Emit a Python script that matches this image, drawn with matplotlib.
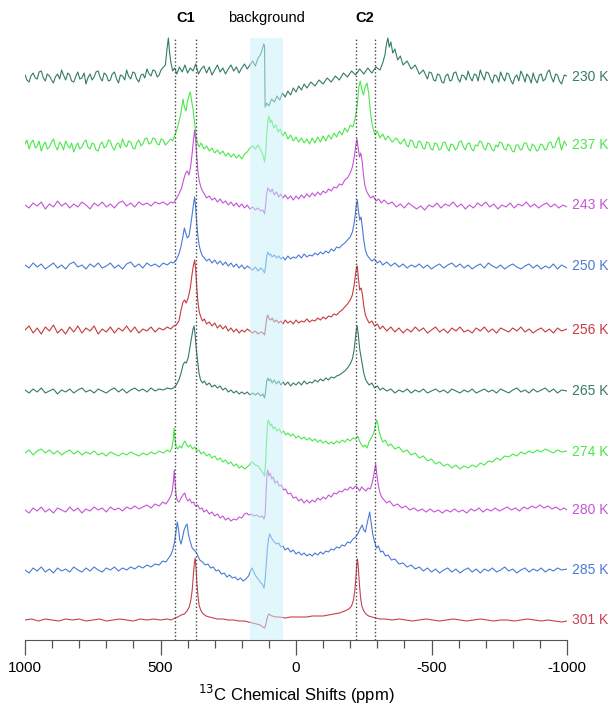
import matplotlib
matplotlib.use("Agg")
import matplotlib.pyplot as plt
from matplotlib.ticker import MultipleLocator

plt.rcParams['font.family'] = ['Liberation Sans', 'DejaVu Sans']
plt.rcParams['axes.unicode_minus'] = False

# ---- data: (ppm, intensity), intensity relative to each trace's baseline ----
s230 = [(1000,2),(993,-3),(985,-5),(978,1),(970,4),(962,-1),(955,-2),(948,5),(940,6),(932,-1),(925,-4),(918,3),(910,1),(902,-3),(895,-6),(888,0),(880,3),(872,-2),(865,7),(858,2),(850,-3),(842,4),(835,2),(828,-4),(820,-5),(812,1),(805,5),(798,-2),(790,-1),(782,4),(775,-7),(768,-1),(760,3),(752,-3),(745,0),(738,5),(730,6),(722,-1),(715,-4),(708,4),(700,2),(692,-4),(685,-3),(678,3),(670,5),(662,-2),(655,-6),(648,2),(640,1),(632,-3),(625,7),(618,1),(610,-2),(602,5),(595,4),(588,-2),(580,-5),(572,2),(565,3),(558,-1),(550,8),(542,3),(535,1),(528,7),(520,6),(512,0),(505,2),(498,7),(492,9),(482,12),(476,28),(471,39),(467,26),(462,15),(455,6),(448,9),(440,3),(430,10),(420,5),(410,12),(400,4),(390,9),(380,6),(370,13),(360,3),(350,8),(340,11),(330,4),(320,10),(310,2),(300,7),(290,12),(280,5),(270,9),(260,3),(250,8),(240,12),(230,6),(220,10),(210,4),(200,9),(190,13),(180,8),(170,12),(160,16),(150,11),(140,19),(132,22),(125,27),(119,33),(116,31),(114,-30),(108,-26),(100,-29),(90,-22),(80,-25),(70,-19),(60,-23),(50,-16),(40,-20),(30,-14),(20,-18),(10,-11),(0,-15),(-10,-9),(-20,-13),(-30,-7),(-40,-11),(-55,-5),(-70,-9),(-85,-3),(-100,-7),(-115,-1),(-130,-5),(-145,1),(-160,-3),(-175,4),(-190,0),(-205,6),(-220,2),(-235,8),(-250,3),(-265,9),(-280,4),(-295,10),(-310,7),(-320,14),(-328,22),(-334,33),(-339,39),(-344,30),(-350,35),(-357,24),(-365,28),(-375,17),(-385,21),(-395,12),(-410,16),(-425,8),(-440,12),(-455,3),(-470,7),(-485,-2),(-492,5),(-500,4),(-508,-3),(-515,-4),(-522,3),(-530,2),(-538,-5),(-545,-6),(-552,1),(-560,3),(-568,-4),(-575,-3),(-582,4),(-590,5),(-598,-2),(-605,-5),(-612,2),(-620,1),(-628,-3),(-635,6),(-642,0),(-650,-4),(-658,3),(-665,2),(-672,-4),(-680,7),(-688,1),(-695,-3),(-702,5),(-710,4),(-718,-2),(-725,-6),(-732,2),(-740,1),(-748,-5),(-755,5),(-762,0),(-770,-4),(-778,4),(-785,3),(-792,-3),(-800,-7),(-808,0),(-815,2),(-822,-4),(-830,6),(-838,1),(-845,-5),(-852,3),(-860,0),(-868,-6),(-875,4),(-882,-2),(-890,-6),(-898,2),(-905,3),(-912,-4),(-920,-2),(-928,5),(-935,7),(-942,0),(-950,-5),(-958,3),(-965,2),(-972,-4),(-980,-7),(-990,2),(-1000,1)]

s237 = [(1000,1),(993,5),(985,-4),(978,2),(970,5),(962,-3),(955,-1),(948,4),(940,-6),(932,0),(925,3),(918,-4),(910,-2),(902,3),(895,6),(888,-1),(880,-5),(872,3),(865,0),(858,-5),(850,4),(842,-1),(835,-3),(828,2),(820,-7),(812,-1),(805,2),(798,-4),(790,-2),(782,3),(775,5),(768,-2),(760,-4),(752,2),(745,1),(738,-5),(730,-6),(722,1),(715,3),(708,-3),(700,-1),(692,5),(685,4),(678,-2),(670,-5),(662,1),(655,2),(648,-3),(640,6),(632,0),(625,-2),(618,4),(610,3),(602,-3),(595,-4),(588,2),(580,5),(572,-1),(565,1),(558,6),(550,7),(542,1),(535,2),(528,7),(520,6),(512,1),(505,0),(498,6),(490,5),(482,0),(475,2),(462,6),(455,4),(448,9),(440,15),(433,22),(426,30),(420,40),(417,46),(412,38),(406,34),(400,44),(394,50),(390,53),(385,44),(380,36),(375,24),(370,12),(365,4),(358,-2),(350,2),(340,-4),(330,-1),(320,-6),(310,-3),(300,-8),(290,-5),(280,-9),(270,-6),(260,-11),(250,-8),(240,-12),(230,-9),(220,-13),(210,-10),(200,-14),(190,-9),(180,-7),(170,-3),(160,-1),(150,-4),(140,0),(130,-5),(122,-10),(116,-17),(112,-8),(108,10),(104,24),(100,29),(95,22),(90,25),(82,17),(74,20),(66,13),(58,16),(50,9),(40,13),(30,6),(20,10),(10,4),(0,8),(-10,3),(-20,7),(-30,2),(-40,6),(-50,1),(-60,7),(-70,2),(-80,8),(-90,3),(-100,9),(-110,4),(-120,10),(-130,6),(-140,12),(-150,8),(-160,14),(-170,10),(-180,17),(-190,13),(-200,20),(-210,18),(-218,26),(-226,40),(-232,58),(-237,64),(-243,55),(-249,50),(-255,58),(-262,62),(-268,52),(-274,35),(-280,22),(-286,15),(-292,10),(-300,14),(-310,7),(-320,11),(-330,5),(-340,9),(-355,3),(-370,7),(-385,1),(-400,6),(-408,0),(-415,-2),(-422,5),(-430,4),(-438,-2),(-445,-3),(-452,4),(-460,3),(-468,-3),(-475,-4),(-482,3),(-490,2),(-498,-4),(-505,-5),(-512,2),(-520,1),(-528,-5),(-535,-4),(-542,2),(-550,3),(-558,-3),(-565,-6),(-572,1),(-580,0),(-588,-5),(-595,-3),(-602,3),(-610,4),(-618,-2),(-625,-5),(-632,1),(-640,2),(-648,-4),(-655,-6),(-662,0),(-670,-1),(-678,4),(-685,3),(-692,-3),(-700,-5),(-708,2),(-715,1),(-722,-4),(-730,-6),(-738,0),(-745,-2),(-752,3),(-760,2),(-768,-4),(-775,-5),(-782,1),(-790,-1),(-798,-6),(-805,-7),(-812,0),(-820,0),(-828,-5),(-835,-4),(-842,2),(-850,2),(-858,-4),(-865,-6),(-872,1),(-880,-1),(-888,-6),(-895,-5),(-902,1),(-910,0),(-918,-5),(-925,-4),(-932,2),(-940,3),(-948,-3),(-955,-2),(-962,4),(-970,8),(-975,0),(-980,-5),(-990,4),(-1000,-1)]

s243 = [(1000,0),(985,-3),(970,2),(955,-1),(940,3),(925,-4),(910,1),(895,-2),(880,4),(865,-1),(850,2),(835,-3),(820,1),(805,-2),(790,3),(775,0),(760,-4),(745,2),(730,-1),(715,3),(700,-2),(685,1),(670,-3),(655,2),(640,4),(625,-1),(610,2),(595,-2),(580,3),(565,0),(550,2),(535,-1),(520,3),(505,1),(490,3),(475,0),(462,3),(452,2),(442,6),(432,11),(422,17),(414,26),(407,32),(401,34),(395,30),(389,38),(383,52),(378,66),(374,75),(370,64),(366,48),(362,34),(357,24),(351,18),(345,14),(338,11),(330,7),(320,9),(310,5),(300,7),(290,3),(280,6),(270,2),(260,4),(250,0),(240,3),(230,-1),(220,2),(210,-2),(200,1),(190,-3),(180,0),(170,-4),(160,-2),(150,-5),(140,-3),(130,-6),(122,-5),(116,-9),(112,0),(108,12),(104,17),(99,15),(94,13),(88,16),(80,10),(72,13),(64,8),(56,11),(48,7),(40,10),(30,6),(20,9),(10,5),(0,9),(-10,6),(-20,10),(-30,7),(-40,11),(-50,8),(-60,12),(-70,9),(-80,13),(-90,10),(-100,14),(-110,12),(-120,16),(-130,14),(-140,18),(-150,17),(-160,21),(-170,20),(-180,25),(-190,27),(-200,32),(-208,38),(-215,48),(-221,60),(-225,66),(-229,58),(-234,48),(-239,52),(-244,44),(-249,30),(-254,20),(-260,14),(-268,10),(-276,7),(-285,9),(-295,4),(-305,6),(-315,2),(-325,5),(-340,1),(-355,3),(-370,-2),(-385,1),(-400,-3),(-415,2),(-430,-1),(-445,-4),(-460,-1),(-475,-5),(-490,0),(-505,-2),(-520,2),(-535,-3),(-550,1),(-565,-1),(-580,3),(-595,-2),(-610,1),(-625,-4),(-640,0),(-655,-3),(-670,2),(-685,-1),(-700,3),(-715,-2),(-730,1),(-745,-4),(-760,0),(-775,-2),(-790,2),(-805,-3),(-820,1),(-835,-1),(-850,3),(-865,-2),(-880,1),(-895,-3),(-910,0),(-925,2),(-940,-2),(-955,1),(-970,-3),(-985,0),(-1000,-2)]

s250 = [(1000,1),(985,-2),(970,3),(955,-1),(940,2),(925,-3),(910,0),(895,3),(880,-2),(865,1),(850,-3),(835,2),(820,4),(805,-1),(790,1),(775,-3),(760,2),(745,-1),(730,3),(715,-2),(700,0),(685,3),(670,-2),(655,1),(640,-3),(625,2),(610,4),(595,-1),(580,2),(565,-2),(550,3),(535,0),(520,2),(505,-1),(490,3),(475,1),(462,4),(452,3),(442,6),(432,12),(424,20),(417,30),(412,38),(407,33),(401,28),(395,30),(389,40),(383,52),(378,62),(374,69),(370,58),(366,42),(362,30),(357,20),(351,14),(345,10),(338,8),(330,5),(320,7),(310,3),(300,6),(290,2),(280,5),(270,1),(260,4),(250,0),(240,3),(230,-1),(220,2),(210,-2),(200,1),(190,-3),(180,0),(170,-2),(160,-4),(150,-1),(140,-5),(130,-2),(122,-4),(116,-7),(112,0),(108,10),(104,14),(99,11),(94,12),(88,9),(80,11),(72,8),(64,10),(56,7),(48,9),(40,6),(30,10),(20,7),(10,9),(0,8),(-10,11),(-20,8),(-30,12),(-40,9),(-50,11),(-60,10),(-70,13),(-80,11),(-90,14),(-100,12),(-110,15),(-120,13),(-130,17),(-140,15),(-150,19),(-160,18),(-170,21),(-180,23),(-190,26),(-200,29),(-208,34),(-214,42),(-219,52),(-223,62),(-226,66),(-230,56),(-235,46),(-240,49),(-245,38),(-250,26),(-256,16),(-262,11),(-270,8),(-280,5),(-290,7),(-300,3),(-310,5),(-320,1),(-335,4),(-350,0),(-365,3),(-380,-1),(-395,2),(-410,-2),(-425,1),(-440,-1),(-455,2),(-470,-2),(-485,1),(-500,-3),(-515,0),(-530,2),(-545,-2),(-560,1),(-575,3),(-590,-1),(-605,2),(-620,-2),(-635,1),(-650,-3),(-665,0),(-680,2),(-695,-2),(-710,3),(-725,0),(-740,-2),(-755,1),(-770,-3),(-785,0),(-800,2),(-815,-1),(-830,-3),(-845,0),(-860,2),(-875,-2),(-890,1),(-905,-3),(-920,0),(-935,-2),(-950,2),(-965,-3),(-980,1),(-1000,-2)]

s256 = [(1000,0),(985,4),(970,-3),(955,2),(940,-4),(925,3),(910,-1),(895,5),(880,-3),(865,1),(850,-4),(835,3),(820,-2),(805,4),(790,-3),(775,2),(760,-1),(745,4),(730,-4),(715,1),(700,-2),(685,3),(670,-3),(655,2),(640,-1),(625,4),(610,-2),(595,3),(580,-3),(565,1),(550,-1),(535,3),(520,-2),(505,2),(490,0),(475,3),(462,1),(452,4),(442,5),(432,9),(424,20),(417,28),(411,30),(405,27),(398,32),(390,42),(384,55),(379,64),(374,70),(370,60),(366,42),(362,28),(357,18),(351,13),(345,9),(338,11),(330,6),(320,8),(310,4),(300,7),(290,2),(280,5),(270,1),(260,4),(250,-1),(240,2),(230,-2),(220,1),(210,-3),(200,0),(190,-2),(180,1),(170,-1),(160,-3),(150,-1),(140,-4),(130,-2),(122,-3),(116,-5),(112,3),(108,12),(104,15),(99,11),(94,10),(88,12),(80,8),(72,10),(64,7),(56,9),(48,6),(40,10),(30,7),(20,9),(10,6),(0,10),(-10,7),(-20,9),(-30,8),(-40,11),(-50,8),(-60,10),(-70,9),(-80,12),(-90,10),(-100,13),(-110,11),(-120,14),(-130,13),(-140,16),(-150,15),(-160,18),(-170,20),(-180,23),(-190,26),(-200,30),(-208,35),(-214,44),(-219,54),(-223,62),(-226,64),(-230,52),(-235,40),(-240,42),(-245,36),(-250,24),(-256,15),(-262,11),(-270,7),(-280,9),(-290,4),(-300,6),(-310,1),(-320,4),(-335,-1),(-350,3),(-365,-2),(-380,2),(-395,-3),(-410,1),(-425,-2),(-440,3),(-455,-1),(-470,2),(-485,-3),(-500,0),(-515,3),(-530,-2),(-545,1),(-560,-3),(-575,2),(-590,-1),(-605,3),(-620,-2),(-635,0),(-650,-3),(-665,2),(-680,-1),(-695,3),(-710,-2),(-725,1),(-740,-3),(-755,2),(-770,0),(-785,-2),(-800,2),(-815,-1),(-830,3),(-845,-2),(-860,1),(-875,-3),(-890,0),(-905,2),(-920,-2),(-935,1),(-950,-3),(-965,2),(-980,-1),(-1000,1)]

s265 = [(1000,1),(985,-2),(970,2),(955,-1),(940,3),(925,-2),(910,0),(895,2),(880,-3),(865,1),(850,-1),(835,2),(820,-2),(805,1),(790,3),(775,-1),(760,1),(745,-2),(730,2),(715,0),(700,-2),(685,1),(670,3),(655,-1),(640,2),(625,-2),(610,1),(595,3),(580,0),(565,2),(550,-1),(535,3),(520,0),(505,2),(490,1),(475,3),(462,2),(452,3),(442,6),(432,11),(424,18),(417,26),(411,29),(405,28),(398,33),(391,44),(385,54),(380,62),(376,65),(372,56),(368,42),(363,30),(358,18),(352,11),(345,8),(338,10),(330,6),(320,8),(310,4),(300,6),(290,3),(280,5),(270,1),(260,3),(250,-1),(240,1),(230,-2),(220,0),(210,-3),(200,-1),(190,-3),(180,-1),(170,-4),(160,-2),(150,-4),(140,-2),(130,-5),(122,-3),(116,-7),(112,0),(108,10),(104,13),(99,10),(94,12),(88,8),(80,11),(72,7),(64,10),(56,6),(48,9),(40,6),(30,9),(20,5),(10,8),(0,6),(-10,9),(-20,6),(-30,10),(-40,7),(-50,9),(-60,8),(-70,11),(-80,9),(-90,12),(-100,10),(-110,13),(-120,11),(-130,14),(-140,13),(-150,15),(-160,16),(-170,18),(-180,20),(-190,23),(-200,27),(-208,32),(-214,40),(-219,52),(-223,62),(-226,65),(-230,56),(-235,42),(-240,34),(-245,26),(-250,18),(-256,12),(-262,9),(-270,6),(-280,8),(-290,3),(-300,5),(-310,1),(-320,3),(-335,0),(-350,2),(-365,-2),(-380,1),(-395,-1),(-410,2),(-425,-2),(-440,1),(-455,-1),(-470,2),(-485,-2),(-500,0),(-515,2),(-530,-1),(-545,1),(-560,-2),(-575,2),(-590,0),(-605,-2),(-620,1),(-635,-1),(-650,2),(-665,-2),(-680,0),(-695,2),(-710,-1),(-725,1),(-740,-2),(-755,2),(-770,0),(-785,-2),(-800,1),(-815,3),(-830,-1),(-845,1),(-860,-2),(-875,2),(-890,-1),(-905,1),(-920,3),(-935,-1),(-950,2),(-965,-2),(-980,1),(-1000,0)]

s274 = [(1000,-1),(985,2),(970,-3),(955,1),(940,3),(925,-1),(910,2),(895,-2),(880,1),(865,-3),(850,0),(835,2),(820,-2),(805,1),(790,-3),(775,0),(760,-2),(745,1),(730,-3),(715,-1),(700,-4),(685,0),(670,-2),(655,-4),(640,-1),(625,-3),(610,0),(595,-2),(580,-4),(565,-1),(550,-3),(535,0),(520,-2),(505,1),(490,-1),(475,2),(465,0),(458,4),(453,12),(450,24),(447,14),(443,6),(436,3),(429,6),(422,4),(415,9),(410,11),(405,8),(398,5),(390,7),(382,3),(374,5),(366,1),(358,2),(350,-2),(340,0),(330,-4),(320,-2),(310,-6),(300,-4),(290,-8),(280,-6),(270,-10),(260,-8),(250,-12),(240,-10),(230,-14),(220,-12),(210,-16),(200,-14),(190,-17),(180,-15),(172,-13),(165,-10),(158,-11),(150,-13),(140,-14),(130,-18),(122,-21),(116,-24),(112,-10),(108,15),(105,28),(102,32),(98,29),(94,26),(90,28),(84,23),(78,25),(70,21),(62,23),(54,19),(46,21),(38,17),(30,19),(20,16),(10,18),(0,14),(-10,16),(-20,13),(-30,15),(-40,12),(-50,14),(-60,11),(-70,13),(-80,10),(-90,12),(-100,9),(-110,11),(-120,8),(-130,10),(-140,8),(-150,11),(-160,9),(-170,12),(-180,10),(-190,13),(-200,11),(-210,14),(-220,13),(-228,16),(-234,11),(-240,8),(-248,5),(-255,7),(-262,4),(-268,9),(-275,13),(-282,16),(-288,20),(-293,27),(-298,32),(-302,28),(-307,20),(-313,15),(-320,10),(-330,12),(-340,6),(-350,8),(-365,3),(-380,5),(-395,0),(-410,2),(-425,-3),(-440,-1),(-455,-6),(-470,-4),(-485,-9),(-500,-7),(-515,-12),(-530,-10),(-545,-14),(-560,-12),(-575,-16),(-590,-13),(-605,-17),(-620,-14),(-635,-16),(-650,-13),(-665,-15),(-680,-11),(-695,-13),(-710,-9),(-725,-10),(-740,-6),(-755,-8),(-770,-4),(-785,-5),(-800,-2),(-815,-4),(-830,0),(-845,-2),(-860,1),(-875,-1),(-890,2),(-905,0),(-920,3),(-935,1),(-950,-1),(-965,2),(-980,0),(-1000,1)]

s280 = [(1000,0),(985,-3),(970,2),(955,-1),(940,3),(925,-2),(910,1),(895,-3),(880,2),(865,0),(850,-2),(835,3),(820,-1),(805,2),(790,-3),(775,1),(760,-1),(745,3),(730,0),(715,2),(700,-2),(685,3),(670,0),(655,2),(640,-1),(625,3),(610,1),(595,4),(580,1),(565,3),(550,5),(535,2),(520,6),(505,4),(492,8),(480,6),(470,10),(462,14),(456,20),(452,30),(449,40),(446,26),(442,14),(437,9),(431,8),(424,12),(417,15),(411,17),(405,12),(399,9),(392,11),(385,7),(378,8),(371,4),(363,5),(355,1),(347,2),(340,-2),(330,0),(320,-4),(310,-2),(300,-6),(290,-4),(280,-8),(270,-6),(260,-10),(250,-8),(240,-11),(230,-9),(220,-10),(210,-7),(200,-8),(190,-4),(182,-3),(175,-5),(165,-4),(155,-6),(145,-5),(135,-7),(125,-6),(118,-9),(114,-5),(110,20),(107,36),(104,40),(100,34),(95,37),(90,31),(84,33),(78,27),(70,29),(62,24),(54,25),(46,20),(38,21),(30,16),(20,17),(10,12),(0,13),(-10,9),(-20,11),(-30,7),(-40,10),(-50,7),(-60,10),(-70,8),(-80,12),(-90,10),(-100,13),(-110,11),(-120,15),(-130,13),(-140,17),(-150,16),(-160,19),(-170,18),(-180,21),(-190,20),(-200,23),(-210,21),(-220,24),(-228,22),(-235,19),(-242,23),(-250,21),(-258,19),(-266,22),(-274,21),(-280,26),(-285,32),(-290,40),(-294,46),(-298,36),(-303,26),(-309,18),(-316,13),(-325,10),(-335,7),(-345,9),(-360,4),(-375,6),(-390,2),(-405,4),(-420,0),(-435,2),(-450,-1),(-465,1),(-480,-2),(-495,1),(-510,-2),(-525,0),(-540,-3),(-555,0),(-570,-2),(-585,1),(-600,-2),(-615,0),(-630,-3),(-645,1),(-660,-1),(-675,2),(-690,-2),(-705,1),(-720,-1),(-735,2),(-750,-1),(-765,1),(-780,3),(-795,0),(-810,2),(-825,-1),(-840,3),(-855,1),(-870,4),(-885,2),(-900,5),(-915,2),(-930,4),(-945,1),(-960,3),(-975,0),(-990,2),(-1000,0)]

s285 = [(1000,0),(985,-3),(970,2),(955,-1),(940,3),(925,-2),(910,1),(895,-3),(880,2),(865,-1),(850,1),(835,-2),(820,3),(805,0),(790,-2),(775,2),(760,-1),(745,3),(730,0),(715,-2),(700,2),(685,0),(670,3),(655,-1),(640,2),(625,0),(610,3),(595,1),(580,4),(565,2),(550,5),(535,3),(520,6),(505,5),(492,9),(480,8),(470,12),(462,15),(455,20),(448,28),(443,38),(438,48),(434,42),(429,30),(424,26),(419,32),(413,40),(407,44),(402,46),(397,36),(390,28),(383,22),(376,20),(369,18),(362,14),(355,10),(345,8),(335,5),(325,6),(315,2),(305,3),(295,-1),(285,0),(275,-4),(265,-3),(255,-7),(245,-5),(235,-8),(225,-7),(215,-10),(205,-8),(195,-11),(185,-9),(175,-6),(168,-1),(162,2),(156,-2),(148,-6),(140,-9),(132,-12),(125,-14),(118,-18),(114,-10),(110,5),(106,20),(102,30),(97,36),(92,33),(86,30),(80,28),(72,26),(64,27),(56,23),(48,24),(40,20),(30,22),(20,18),(10,20),(0,16),(-10,18),(-20,15),(-30,17),(-40,14),(-50,16),(-60,14),(-70,17),(-80,15),(-90,18),(-100,16),(-110,19),(-120,18),(-130,21),(-140,20),(-150,23),(-160,22),(-170,25),(-180,24),(-190,28),(-200,27),(-210,31),(-220,33),(-230,37),(-238,42),(-244,45),(-250,40),(-256,38),(-262,46),(-267,52),(-272,58),(-277,48),(-283,36),(-290,28),(-297,22),(-304,24),(-312,18),(-320,19),(-330,14),(-340,15),(-352,10),(-365,11),(-380,6),(-395,7),(-410,3),(-425,5),(-440,1),(-455,3),(-470,-1),(-485,2),(-500,-2),(-515,1),(-530,-3),(-545,0),(-560,2),(-575,-2),(-590,1),(-605,-3),(-620,0),(-635,2),(-650,-2),(-665,1),(-680,-3),(-695,1),(-710,-1),(-725,2),(-740,-2),(-755,0),(-770,3),(-785,-1),(-800,1),(-815,-3),(-830,0),(-845,2),(-860,-2),(-875,1),(-890,-1),(-905,2),(-920,-2),(-935,1),(-950,-1),(-965,2),(-980,0),(-1000,1)]

s301 = [(1000,0),(975,1),(950,-1),(925,1),(900,0),(875,-1),(850,1),(825,0),(800,1),(775,-1),(750,0),(725,1),(700,-1),(675,0),(650,1),(625,0),(600,-1),(575,1),(550,0),(525,1),(500,0),(475,1),(460,0),(448,2),(436,3),(424,5),(412,6),(402,9),(394,13),(388,20),(383,30),(379,44),(375,57),(372,62),(369,53),(366,38),(362,25),(357,14),(350,9),(342,6),(332,4),(320,3),(305,2),(290,1),(270,1),(250,0),(230,0),(210,-1),(190,-1),(175,-2),(160,-3),(145,-4),(132,-5),(122,-7),(116,-8),(112,-5),(108,0),(104,4),(100,6),(95,5),(88,4),(75,3),(60,3),(40,2),(20,3),(0,3),(-20,3),(-40,3),(-60,4),(-80,4),(-100,4),(-120,5),(-140,6),(-160,7),(-180,9),(-195,11),(-205,14),(-212,20),(-217,29),(-221,42),(-224,55),(-227,61),(-230,52),(-234,36),(-238,23),(-243,14),(-250,9),(-258,6),(-268,4),(-280,3),(-295,2),(-310,1),(-330,1),(-355,0),(-380,1),(-405,0),(-430,-1),(-455,0),(-480,1),(-505,0),(-530,-1),(-555,0),(-580,1),(-605,0),(-630,-1),(-655,0),(-680,1),(-705,0),(-730,-1),(-755,0),(-780,0),(-805,-1),(-830,0),(-855,1),(-880,0),(-905,-1),(-930,0),(-955,-1),(-980,-2),(-1000,-1)]

temps = ['230 K', '237 K', '243 K', '250 K', '256 K', '265 K', '274 K', '280 K', '285 K', '301 K']
spectra = [s230, s237, s243, s250, s256, s265, s274, s280, s285, s301]
marker_ppm = [445, 370, -220, -290]
band_ppm = (170, 48)
tick_major = 500
tick_minor = 100

# ---- layout / style ----
colors = ['#357a6a', '#4ae84a', '#c653d8', '#4a7ad6', '#c83a3e',
          '#357a6a', '#4ae84a', '#c653d8', '#4a7ad6', '#c8404e']
offsets = [563, 495, 435, 374, 310, 249, 188, 130, 70, 20]

fig = plt.figure(figsize=(6.15, 7.06), dpi=100)
ax = fig.add_axes([25/615, 66/706, 542/615, 610/706])
ax.set_xlim(1000, -1000)
ax.set_ylim(0, 610)

for spec, off, col, lab in zip(spectra, offsets, colors, temps):
    xs = [p for p, _ in spec]
    ys = [v + off for _, v in spec]
    ax.plot(xs, ys, color=col, lw=0.8, zorder=2)
    ax.text(-1018, off, lab, color=col, fontsize=10, ha='left', va='center', clip_on=False)

top = 602
ax.axvspan(band_ppm[1], band_ppm[0], ymin=0, ymax=top/610, color='#c4f1f9', alpha=0.5, lw=0, zorder=3)
ax.vlines(marker_ppm, 0, top, colors='#444444', linestyles=(0, (1, 1.6)), lw=1.0, zorder=4)

ax.text(sum(marker_ppm[:2])/2, 622, 'C1', fontsize=10.5, fontweight='bold', ha='center', va='center')
ax.text(sum(band_ppm)/2, 622, 'background', fontsize=10.5, ha='center', va='center')
ax.text(sum(marker_ppm[2:])/2, 622, 'C2', fontsize=10.5, fontweight='bold', ha='center', va='center')

for s in ['left', 'right', 'top']:
    ax.spines[s].set_visible(False)
ax.spines['bottom'].set_color('#555555')
ax.set_yticks([])
ax.xaxis.set_major_locator(MultipleLocator(tick_major))
ax.xaxis.set_minor_locator(MultipleLocator(tick_minor))
ax.tick_params(axis='x', which='major', direction='out', length=11, width=0.9, colors='#555555', labelsize=11, labelcolor='black', pad=4)
ax.tick_params(axis='x', which='minor', direction='out', length=6, width=0.9, colors='#555555')
ax.set_xlabel('$^{13}$C Chemical Shifts (ppm)', fontsize=12, labelpad=6)

fig.savefig('out.png', dpi=100)
